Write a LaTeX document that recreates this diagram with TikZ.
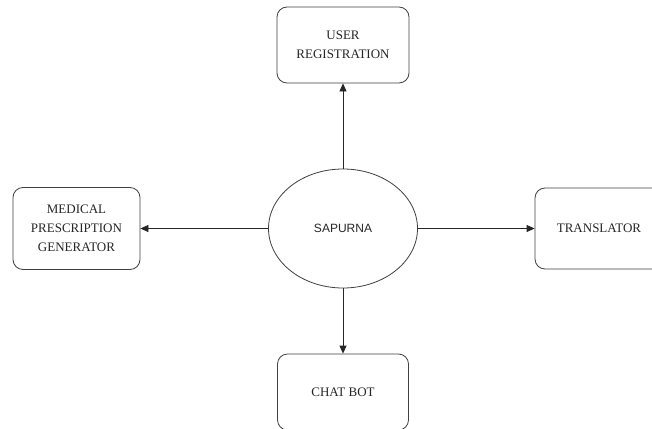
\documentclass[tikz,border=0pt]{standalone}
\usepackage{fontspec}
\setmainfont{Liberation Serif}
\setsansfont{Liberation Sans}
\usetikzlibrary{shapes.geometric,arrows.meta}

\tikzset{
  modbox/.style = {draw = black!75, line width = 0.8pt, rounded corners = 10pt, align = center,
    font = \fontsize{13}{19}\selectfont, text = black!85, inner sep = 0pt},
  hub/.style = {draw = black!75, line width = 0.8pt, ellipse, inner sep = 0pt,
    minimum width = 149pt, minimum height = 119pt, font = \sffamily\fontsize{12}{14}\selectfont, text = black!85},
  flow/.style = {draw = black!85, line width = 0.8pt, -{Triangle[length = 8pt, width = 7pt]}}
}

\begin{document}
\begin{tikzpicture}[x = 1pt, y = -1pt]
\useasboundingbox (0,0) rectangle (652,428);
\clip (0,0) rectangle (652,428);
\fill[white] (0,0) rectangle (652,428);

\node[hub] (sapurna) at (343,228.5) {SAPURNA};
\node[modbox, minimum width = 132pt, minimum height = 76pt] (reg) at (343,45) {USER\\REGISTRATION};
\node[modbox, minimum width = 127pt, minimum height = 82pt] (med) at (76.5,228.5) {MEDICAL\\PRESCRIPTION\\GENERATOR};
\node[modbox, minimum width = 128pt, minimum height = 81pt] (trans) at (599,228.5) {TRANSLATOR};
\node[modbox, minimum width = 131pt, minimum height = 76pt] (chat) at (343,392) {CHAT BOT};

\draw[flow] (sapurna.north) -- (reg.south);
\draw[flow] (sapurna.west) -- (med.east);
\draw[flow] (sapurna.east) -- (trans.west);
\draw[flow] (sapurna.south) -- (chat.north);
\end{tikzpicture}
\end{document}
